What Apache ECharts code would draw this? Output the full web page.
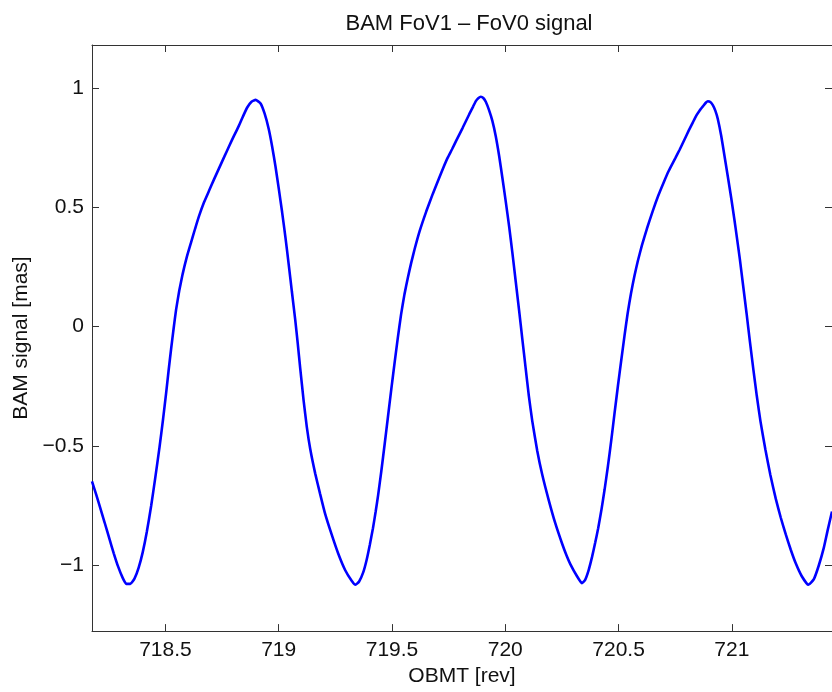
<!DOCTYPE html>
<html>
<head>
<meta charset="utf-8">
<title>BAM FoV1 − FoV0 signal</title>
<script src="https://cdn.jsdelivr.net/npm/echarts@6/dist/echarts.min.js"></script>
<style>
  html, body { margin: 0; padding: 0; background: #fff; }
  #chart { width: 832px; height: 692px; }
</style>
</head>
<body>
<div id="chart"></div>
<script>
// On-board mission time [rev]
const obmt = [
  718.176, 718.195, 718.211, 718.232, 718.254, 718.272, 718.291, 718.310, 718.327, 718.345,
  718.364, 718.382, 718.400, 718.418, 718.437, 718.455, 718.474, 718.490, 718.503, 718.514,
  718.525, 718.536, 718.547, 718.561, 718.576, 718.594, 718.613, 718.631, 718.649, 718.670,
  718.693, 718.715, 718.737, 718.759, 718.781, 718.803, 718.825, 718.843, 718.861, 718.880,
  718.898, 718.920, 718.938, 718.956, 718.971, 718.986, 719.000, 719.015, 719.030, 719.044,
  719.058, 719.073, 719.084, 719.095, 719.110, 719.124, 719.139, 719.161, 719.183, 719.205,
  719.234, 719.263, 719.293, 719.322, 719.339, 719.355, 719.373, 719.388, 719.402, 719.416,
  719.428, 719.439, 719.453, 719.468, 719.482, 719.497, 719.512, 719.526, 719.540, 719.555,
  719.570, 719.585, 719.600, 719.622, 719.651, 719.680, 719.709, 719.727, 719.746, 719.765,
  719.783, 719.812, 719.841, 719.858, 719.870, 719.882, 719.892, 719.903, 719.914, 719.928,
  719.943, 719.958, 719.973, 719.987, 720.002, 720.017, 720.031, 720.046, 720.061, 720.075,
  720.090, 720.104, 720.119, 720.141, 720.163, 720.192, 720.221, 720.251, 720.270, 720.287,
  720.316, 720.338, 720.352, 720.368, 720.383, 720.397, 720.410, 720.424, 720.438, 720.453,
  720.468, 720.482, 720.497, 720.512, 720.526, 720.540, 720.555, 720.570, 720.585, 720.603,
  720.625, 720.650, 720.675, 720.700, 720.720, 720.735, 720.750, 720.770, 720.790, 720.810,
  720.828, 720.843, 720.858, 720.873, 720.886, 720.894, 720.905, 720.916, 720.927, 720.938,
  720.953, 720.967, 720.982, 720.997, 721.011, 721.022, 721.035, 721.050, 721.065, 721.080,
  721.095, 721.110, 721.126, 721.148, 721.170, 721.194, 721.216, 721.238, 721.260, 721.282,
  721.308, 721.338, 721.362, 721.384, 721.406, 721.422, 721.442
];

// FoV1 − FoV0 difference [mas]
const signal = [
  -0.649, -0.705, -0.755, -0.822, -0.893, -0.950, -1.005, -1.050, -1.078, -1.078,
  -1.055, -1.010, -0.945, -0.860, -0.752, -0.635, -0.505, -0.385, -0.280, -0.185,
  -0.095, -0.010, 0.070, 0.150, 0.220, 0.290, 0.352, 0.410, 0.465, 0.520,
  0.570, 0.618, 0.664, 0.710, 0.756, 0.800, 0.843, 0.882, 0.918, 0.942,
  0.950, 0.935, 0.892, 0.828, 0.755, 0.670, 0.580, 0.480, 0.372, 0.262,
  0.148, 0.028, -0.070, -0.175, -0.310, -0.420, -0.512, -0.615, -0.702, -0.785,
  -0.872, -0.952, -1.020, -1.065, -1.082, -1.068, -1.030, -0.978, -0.915, -0.845,
  -0.775, -0.705, -0.605, -0.490, -0.380, -0.262, -0.148, -0.045, 0.050, 0.135,
  0.205, 0.268, 0.325, 0.400, 0.482, 0.556, 0.625, 0.667, 0.708, 0.743,
  0.778, 0.833, 0.890, 0.922, 0.945, 0.958, 0.963, 0.958, 0.942, 0.908,
  0.862, 0.798, 0.715, 0.625, 0.525, 0.420, 0.312, 0.190, 0.068, -0.050,
  -0.175, -0.290, -0.395, -0.520, -0.620, -0.728, -0.825, -0.910, -0.958, -0.995,
  -1.045, -1.075, -1.062, -1.020, -0.965, -0.905, -0.845, -0.770, -0.685, -0.585,
  -0.475, -0.365, -0.250, -0.140, -0.040, 0.055, 0.140, 0.212, 0.275, 0.340,
  0.410, 0.482, 0.548, 0.606, 0.650, 0.678, 0.705, 0.742, 0.782, 0.822,
  0.856, 0.884, 0.906, 0.924, 0.939, 0.944, 0.941, 0.928, 0.905, 0.870,
  0.800, 0.718, 0.630, 0.540, 0.450, 0.375, 0.285, 0.170, 0.055, -0.065,
  -0.180, -0.290, -0.395, -0.515, -0.622, -0.722, -0.801, -0.871, -0.935, -0.992,
  -1.045, -1.082, -1.058, -1.000, -0.926, -0.857, -0.775
];

const xTicks = [718.5, 719, 719.5, 720, 720.5, 721];
const yTicks = [-1, -0.5, 0, 0.5, 1];

const xRange = [718.176, 721.442];
const yRange = [-1.276, 1.18];

const points = obmt.map((t, i) => [t, signal[i]]);

const FONT = 'Liberation Sans, Arial, Helvetica, sans-serif';
const INK = '#111';
const AXIS = '#333';
const fmt = v => String(v).replace('-', '\u2212');

const tickStyle = (values) => ({
  show: true, inside: true, length: 7, customValues: values,
  lineStyle: { color: AXIS, width: 1 }
});

const chart = echarts.init(document.getElementById('chart'), null, { renderer: 'canvas' });
chart.setOption({
  backgroundColor: '#fff',
  animation: false,
  title: {
    text: 'BAM FoV1 \u2013 FoV0 signal',
    left: 464, top: 8, textAlign: 'center',
    textStyle: { fontFamily: FONT, fontSize: 22, fontWeight: 'normal', color: INK }
  },
  grid: { left: 92, top: 45, width: 744, height: 589, containLabel: false },
  xAxis: [
    {
      type: 'value', position: 'bottom', min: xRange[0], max: xRange[1],
      name: 'OBMT [rev]', nameLocation: 'middle', nameGap: 34,
      nameTextStyle: { fontFamily: FONT, fontSize: 21, color: INK },
      axisLine: { show: true, onZero: false, lineStyle: { color: AXIS, width: 1 } },
      axisTick: tickStyle(xTicks),
      axisLabel: { customValues: xTicks, margin: 9, fontFamily: FONT, fontSize: 21, color: INK, formatter: fmt },
      splitLine: { show: false }
    },
    {
      type: 'value', position: 'top', min: xRange[0], max: xRange[1],
      axisLine: { show: true, onZero: false, lineStyle: { color: AXIS, width: 1 } },
      axisTick: tickStyle(xTicks),
      axisLabel: { show: false },
      splitLine: { show: false }
    }
  ],
  yAxis: [
    {
      type: 'value', position: 'left', min: yRange[0], max: yRange[1],
      name: 'BAM signal [mas]', nameLocation: 'middle', nameGap: 57, nameRotate: 90,
      nameTextStyle: { fontFamily: FONT, fontSize: 21, color: INK },
      axisLine: { show: true, onZero: false, lineStyle: { color: AXIS, width: 1 } },
      axisTick: tickStyle(yTicks),
      axisLabel: { customValues: yTicks, margin: 8, fontFamily: FONT, fontSize: 21, color: INK, formatter: fmt },
      splitLine: { show: false }
    },
    {
      type: 'value', position: 'right', min: yRange[0], max: yRange[1],
      axisLine: { show: true, onZero: false, lineStyle: { color: AXIS, width: 1 } },
      axisTick: tickStyle(yTicks),
      axisLabel: { show: false },
      splitLine: { show: false }
    }
  ],
  series: [
    {
      type: 'line',
      xAxisIndex: 0, yAxisIndex: 0,
      data: points,
      showSymbol: false,
      smooth: 0.15,
      lineStyle: { color: '#0000ff', width: 2.6 },
      clip: true
    }
  ]
});
</script>
</body>
</html>
